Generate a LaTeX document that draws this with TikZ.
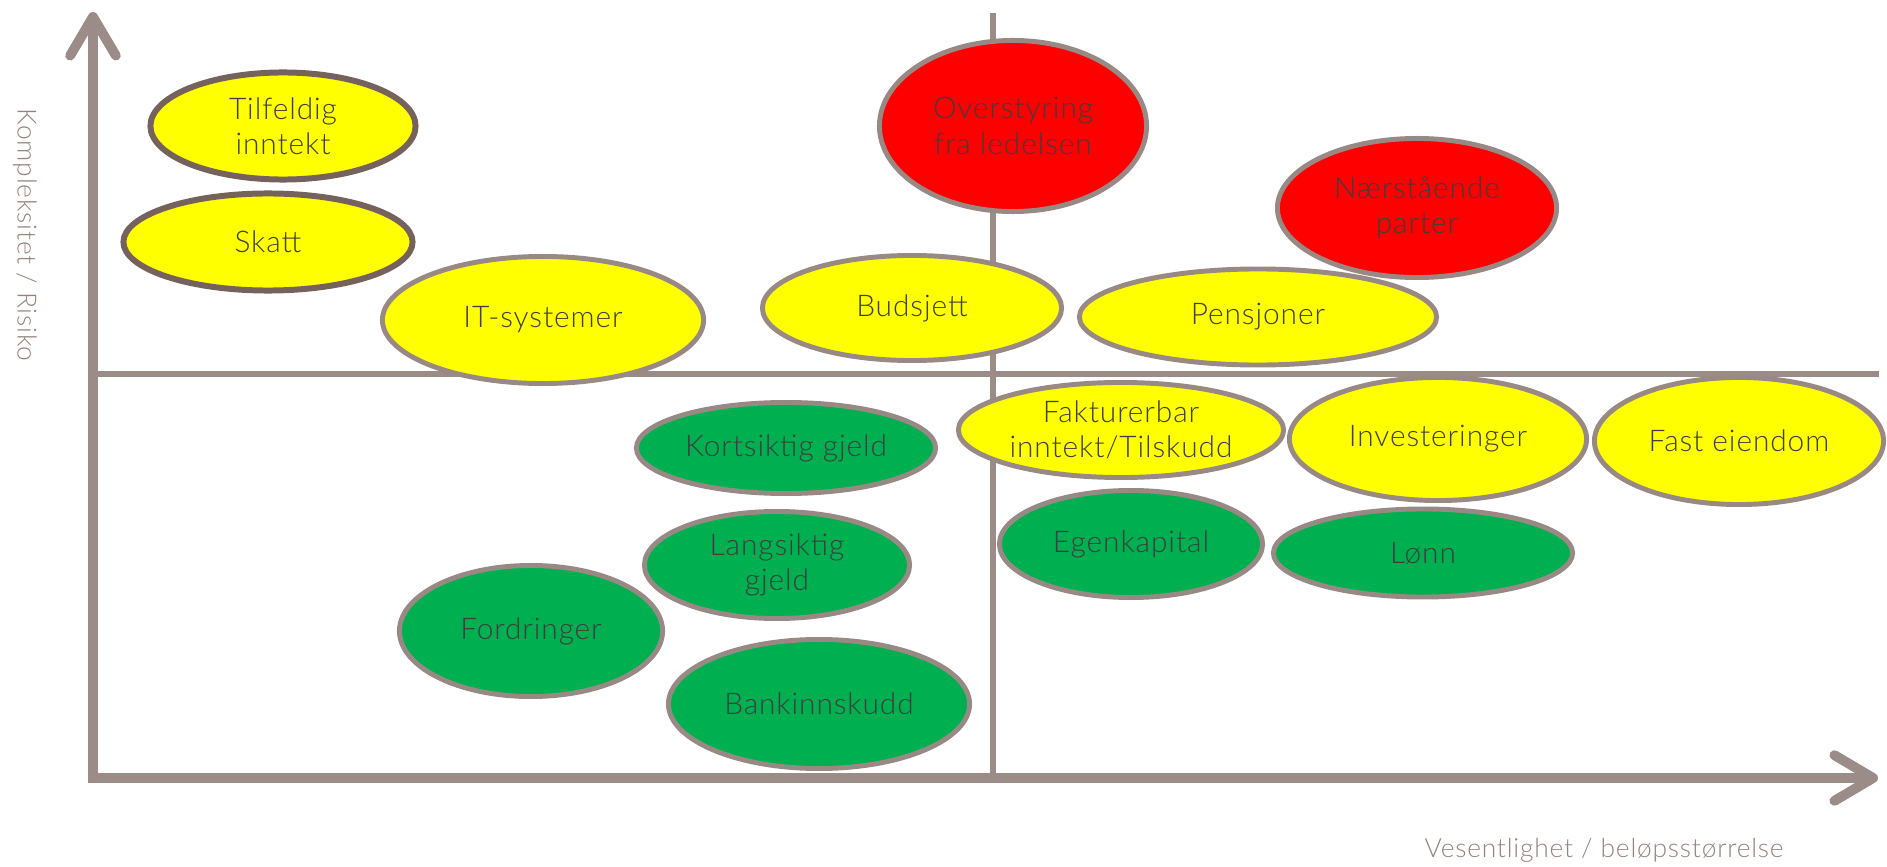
\documentclass[tikz,border=0pt]{standalone}
\usepackage{fontspec}
\setmainfont{Lato}[UprightFont={* Light}, LetterSpace=3]
\usetikzlibrary{arrows.meta,shapes.geometric}
\definecolor{axisgray}{RGB}{155,140,135}
\definecolor{rimgray}{RGB}{152,137,133}
\definecolor{rimdark}{RGB}{118,98,92}
\definecolor{riskgreen}{RGB}{0,176,80}
\definecolor{riskyellow}{RGB}{255,255,0}
\definecolor{riskred}{RGB}{255,0,0}
\definecolor{labeltext}{RGB}{62,62,62}
\definecolor{axistext}{RGB}{150,130,125}
\tikzset{
	auto,
	bubble/.style={
		ellipse, inner sep=0pt, line width=1.4pt, draw=rimgray,
		text=labeltext, align=center, font=\fontsize{8.5}{10}\selectfont
	},
	%
	risklow/.style={bubble, fill=riskgreen},
	riskmid/.style={bubble, fill=riskyellow},
	riskhigh/.style={bubble, fill=riskred},
	darkrim/.style={draw=rimdark, line width=1.7pt},
	%
	axisline/.style={draw=axisgray, line width=2.8pt, line cap=round},
	gridline/.style={draw=axisgray, line width=1.5pt},
	axistitle/.style={text=axistext, font=\fontsize{7.5}{9}\selectfont}
}

\begin{document}
\begin{tikzpicture}[x=0.01cm, y=-0.01cm]
\useasboundingbox (0,0) rectangle (1887,867);
\coordinate (origin) at (93,778);
\coordinate (ytop) at (93,12);
\coordinate (xend) at (1878,778);
\coordinate (midleft) at (96,374);
\coordinate (midright) at (1879,374);
\coordinate (midtop) at (993,13);
\coordinate (midbottom) at (993,778);
% quadrants
\draw[gridline] (midleft) -- (midright);
\draw[gridline] (midtop) -- (midbottom);
\draw[axisline, {Straight Barb[length=11pt, width=13pt, round]}-{Straight Barb[length=11pt, width=13pt, round]}] (ytop) -- (origin) -- (xend);
\node(ytitle)[axistitle, rotate=-90] at (25,235) {Kompleksitet / Risiko};
\node(xtitle)[axistitle] at (1604,850) {Vesentlighet / beløpsstørrelse};
% upper left
\node(tilf)[riskmid, darkrim, minimum width=26.5mm, minimum height=10.7mm] at (283,126) {Tilfeldig\\inntekt};
\node(skatt)[riskmid, darkrim, minimum width=28.9mm, minimum height=9.7mm] at (268,242) {Skatt};
\node(itsys)[riskmid, minimum width=32.1mm, minimum height=12.7mm] at (543,320) {IT-systemer};
\node(budsj)[riskmid, minimum width=29.9mm, minimum height=10.5mm] at (912,308) {Budsjett};
% upper right
\node(overst)[riskhigh, minimum width=26.7mm, minimum height=17.1mm] at (1013,126) {Overstyring\\fra ledelsen};
\node(naerst)[riskhigh, minimum width=27.9mm, minimum height=13.9mm] at (1417,208) {Nærstående\\parter};
\node(pensj)[riskmid, minimum width=35.7mm, minimum height=9.6mm] at (1258,317) {Pensjoner};
% lower right
\node(faktur)[riskmid, minimum width=32.5mm, minimum height=9.5mm] at (1121,430) {Fakturerbar\\inntekt/Tilskudd};
\node(invest)[riskmid, minimum width=29.7mm, minimum height=12.3mm] at (1438,439) {Investeringer};
\node(fast)[riskmid, minimum width=28.9mm, minimum height=12.7mm] at (1739,441) {Fast eiendom};
\node(egenkap)[risklow, minimum width=26.3mm, minimum height=10.7mm] at (1131,544) {Egenkapital};
\node(lonn)[risklow, minimum width=29.9mm, minimum height=8.8mm] at (1423,553) {Lønn};
% lower left
\node(kortsik)[risklow, minimum width=29.9mm, minimum height=9.1mm] at (786,448) {Kortsiktig gjeld};
\node(langsik)[risklow, minimum width=26.5mm, minimum height=10.7mm] at (777,565) {Langsiktig\\gjeld};
\node(fordr)[risklow, minimum width=26.3mm, minimum height=13.1mm] at (531,631) {Fordringer};
\node(bank)[risklow, minimum width=30.1mm, minimum height=12.9mm] at (819,704) {Bankinnskudd};
\end{tikzpicture}
\end{document}
